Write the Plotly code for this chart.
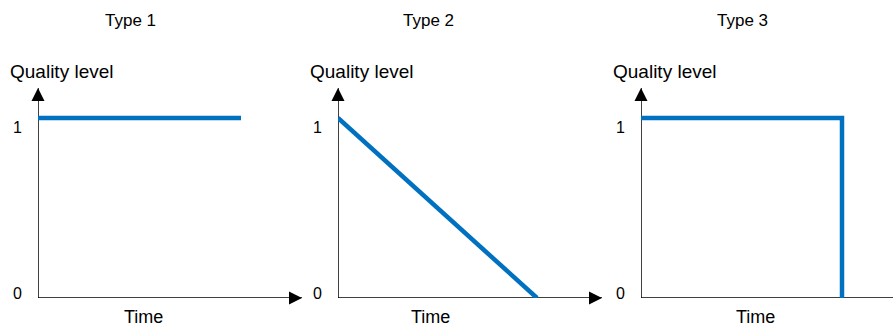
import plotly.graph_objects as go

# ---- data ----
panel_titles = ["Type 1", "Type 2", "Type 3"]
time_1 = [0, 1.015]
quality_1 = [1, 1]
time_2 = [0, 0.995]
quality_2 = [1, 0]
time_3 = [0, 1.005, 1.005]
quality_3 = [1, 1, 0]
tick_values = [0, 1]
tick_text = ["0", "1"]
y_label = "Quality level"
x_label = "Time"

series = [(time_1, quality_1), (time_2, quality_2), (time_3, quality_3)]

# ---- layout constants (pixels) ----
W, H = 893, 327
origins_x = [38, 338, 641]
origin_y = 298
px_per_x = 200.0
px_per_y = 180.0
y_top_px = 88
x_axis_len_px = 264
title_cx = [130, 428, 742]
time_cx = [143, 430, 755]

BLUE = "#0070C0"
FONT = "Liberation Sans, Arial, sans-serif"

fig = go.Figure()
layout = dict(
    width=W, height=H,
    margin=dict(l=0, r=0, t=0, b=0),
    paper_bgcolor="white", plot_bgcolor="white",
    showlegend=False, hovermode=False,
    annotations=[],
)

y_dom = [(H - origin_y) / H, (H - y_top_px) / H]
y_tip = (origin_y - y_top_px) / px_per_y

for i, (xs, ys) in enumerate(series):
    n = i + 1
    ox = origins_x[i]
    right_px = min(ox + x_axis_len_px, W)
    x_dom = [ox / W, right_px / W]
    x_tip = x_axis_len_px / px_per_x
    xa = "xaxis" if n == 1 else f"xaxis{n}"
    ya = "yaxis" if n == 1 else f"yaxis{n}"
    xr = "x" if n == 1 else f"x{n}"
    yr = "y" if n == 1 else f"y{n}"
    layout[xa] = dict(domain=x_dom, range=[0, (right_px - ox) / px_per_x],
                      visible=False, anchor=yr, fixedrange=True)
    layout[ya] = dict(domain=y_dom, range=[0, y_tip],
                      visible=False, anchor=xr, fixedrange=True)

    # axes lines
    fig.add_trace(go.Scatter(x=[0, x_tip], y=[0, 0], mode="lines",
                             line=dict(color="black", width=1.5),
                             xaxis=xr, yaxis=yr, cliponaxis=False))
    fig.add_trace(go.Scatter(x=[0, 0], y=[0, y_tip], mode="lines",
                             line=dict(color="black", width=1.5),
                             xaxis=xr, yaxis=yr, cliponaxis=False))
    # arrow heads
    fig.add_trace(go.Scatter(x=[0, x_tip], y=[y_tip, 0], mode="markers",
                             marker=dict(symbol=["arrow-up", "arrow-right"],
                                         size=13, color="black",
                                         line=dict(width=0)),
                             xaxis=xr, yaxis=yr, cliponaxis=False))
    # quality curve
    fig.add_trace(go.Scatter(x=xs, y=ys, mode="lines",
                             line=dict(color=BLUE, width=4.5),
                             xaxis=xr, yaxis=yr, cliponaxis=False))

    # tick labels
    for v, t in zip(tick_values, tick_text):
        layout["annotations"].append(dict(
            x=0, y=v, xref=xr, yref=yr, text=t, showarrow=False,
            xanchor="right", yanchor="middle", xshift=-14,
            yshift=(-10 if v == 1 else 5),
            font=dict(family=FONT, size=16, color="black")))
    # y label
    layout["annotations"].append(dict(
        x=(ox + 23.5) / W, y=(H - 71) / H, xref="paper", yref="paper",
        text=y_label, showarrow=False, xanchor="center", yanchor="middle",
        font=dict(family=FONT, size=19, color="black")))
    # x label
    layout["annotations"].append(dict(
        x=time_cx[i] / W, y=0, xref="paper", yref="paper",
        text=x_label, showarrow=False, xanchor="center", yanchor="bottom",
        borderpad=0, yshift=-1,
        font=dict(family=FONT, size=18, color="black")))
    # panel title
    layout["annotations"].append(dict(
        x=title_cx[i] / W, y=(H - 20) / H, xref="paper", yref="paper",
        text=panel_titles[i], showarrow=False, xanchor="center", yanchor="middle",
        font=dict(family=FONT, size=17, color="black")))

fig.update_layout(**layout)
fig.write_html("out.html", config=dict(displayModeBar=False, staticPlot=True),
               post_script="document.body.style.margin='0px';document.body.style.overflow='hidden';")
